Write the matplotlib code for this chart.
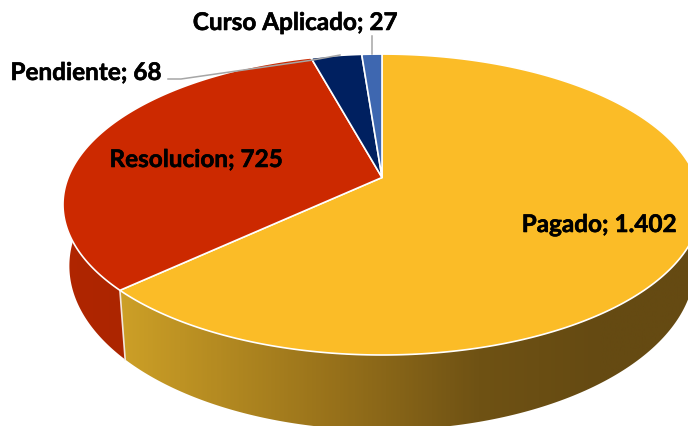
import numpy as np
import matplotlib
matplotlib.use("Agg")
import matplotlib.pyplot as plt
import matplotlib.patheffects as pe
from matplotlib.colors import LinearSegmentedColormap
from matplotlib.patches import Polygon

labels = ["Pagado", "Resolucion", "Pendiente", "Curso Aplicado"]
values = [1402, 725, 68, 27]
value_text = ["1.402", "725", "68", "27"]
colors = ["#FBBC27", "#CC2900", "#002060", "#3E67B0"]
label_xy = [(599, 225.5), (196, 160.5), (86, 73.5), (295, 23.5)]

# perspective of the pie disc, in pixels
APEX = (382, 178.5)
A, B, K = 313.8, 145.6, 0.1797
DEPTH, SX, SY = 59, 0.98, 1.09


def top(theta):
    u, v = np.sin(theta), np.cos(theta)
    d = 1 + K * v
    return np.column_stack([APEX[0] + A * u / d, APEX[1] - B * v / d])


def bottom(theta):
    p = top(theta)
    p[:, 0] = APEX[0] + SX * (p[:, 0] - APEX[0])
    p[:, 1] = APEX[1] + DEPTH + SY * (p[:, 1] - APEX[1])
    return p


def side(ax, t0, t1, cmap, x0, x1):
    t = np.linspace(t0, t1, 200)
    poly = Polygon(np.vstack([top(t), bottom(t)[::-1]]), fc="none", ec="none")
    ax.add_patch(poly)
    im = ax.imshow(np.linspace(0, 1, 400)[None, :], cmap=cmap, extent=(x0, x1, 440, 100),
                   aspect="auto", zorder=1)
    im.set_clip_path(poly)


plt.rcParams["font.family"] = ["Lato", "DejaVu Sans"]
fig = plt.figure(figsize=(6.88, 4.27), dpi=100)
ax = fig.add_axes([0, 0, 1, 1])

gold = LinearSegmentedColormap.from_list("gold", [(0, "#CDA027"), (0.38, "#96701A"),
                                                  (0.62, "#6F5214"), (0.83, "#654A12"),
                                                  (1, "#654A12")])
red = LinearSegmentedColormap.from_list("red", ["#B02600", "#AC2500"])

edges = np.concatenate([[0], np.cumsum(values)]) / sum(values) * 2 * np.pi

side(ax, np.pi / 3, edges[1], gold, 118, 700)
side(ax, edges[1], 1.6 * np.pi, red, 60, 126)

# white seam at the front corner
seam = np.vstack([top(edges[[1]]), bottom(edges[[1]])])
ax.plot(seam[:, 0], seam[:, 1], color="#F2E6DC", lw=1.2, zorder=2)

for i, c in enumerate(colors):
    t = np.linspace(edges[i], edges[i + 1], 300)
    pts = np.vstack([[APEX], top(t)])
    ax.add_patch(Polygon(pts, fc=c, ec="white", lw=1.2, joinstyle="round", zorder=3))

# leader lines
ax.plot([372, 372], [37, 55], color="#A6A6A6", lw=1.1, zorder=4)
ax.plot([168, 181, 313, 340], [80, 80, 61, 56], color="#A6A6A6", lw=1.1, zorder=4)

for name, val, (x, y) in zip(labels, value_text, label_xy):
    t = ax.text(x, y, f"{name}; {val}", ha="center", va="center", fontsize=17.5,
                fontweight="bold", color="black", zorder=5)
    t.set_path_effects([pe.withStroke(linewidth=0.4, foreground="black")])

ax.set_xlim(0, 688)
ax.set_ylim(427, 0)
ax.axis("off")
fig.savefig("out.png", dpi=100)
